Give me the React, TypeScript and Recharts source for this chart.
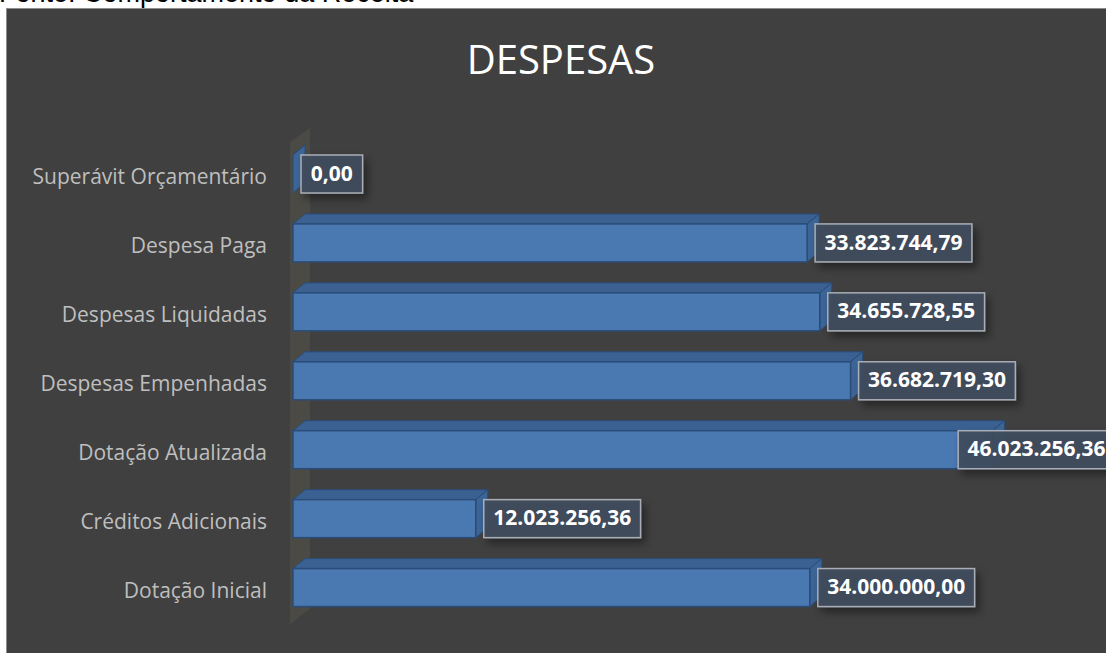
import { BarChart, Bar, XAxis, YAxis, LabelList, ReferenceArea } from 'recharts';

// categories top to bottom, as in the picture
const categories = [
  'Superávit Orçamentário',
  'Despesa Paga',
  'Despesas Liquidadas',
  'Despesas Empenhadas',
  'Dotação Atualizada',
  'Créditos Adicionais',
  'Dotação Inicial',
];
const values = [0, 33823744.79, 34655728.55, 36682719.3, 46023256.36, 12023256.36, 34000000.0];
const valueLabels = [
  '0,00',
  '33.823.744,79',
  '34.655.728,55',
  '36.682.719,30',
  '46.023.256,36',
  '12.023.256,36',
  '34.000.000,00',
];
const xDomain = [0, 50000000];

const data = categories.map((name, i) => ({ name, value: values[i], label: valueLabels[i] }));

const W = 1106;
const H = 653;
const DX = 12;
const DY = 10;
const LABEL_MAX_RIGHT = 1115;

function Bar3D(props: any) {
  const { x, y, width, height } = props;
  const w = Math.max(width || 0, 0);
  const h = height;
  const top = `${x},${y} ${x + DX},${y - DY} ${x + w + DX},${y - DY} ${x + w},${y}`;
  const side = `${x + w},${y} ${x + w + DX},${y - DY} ${x + w + DX},${y + h - DY} ${x + w},${y + h}`;
  return (
    <g>
      <polygon points={top} fill="#3a6192" stroke="#2b4c78" strokeWidth={1} />
      <polygon points={side} fill="#3c6597" stroke="#2b4c78" strokeWidth={1} />
      {w > 0 && <rect x={x} y={y} width={w} height={h} fill="#4a78b1" stroke="#2b4c78" strokeWidth={1.5} />}
    </g>
  );
}

function textWidth(s: string) {
  let t = 0;
  for (const c of s) t += c === '.' || c === ',' ? 5.6 : 12;
  return t;
}

function ValueLabel(props: any) {
  const vb = props.viewBox || props;
  const x = vb.x;
  const y = vb.y;
  const width = Math.max(vb.width || 0, 0);
  const height = vb.height;
  const text = String(props.value);
  const boxW = textWidth(text) + 20;
  let bx = x + width + 8;
  if (bx + boxW > LABEL_MAX_RIGHT) bx = LABEL_MAX_RIGHT - boxW;
  return (
    <g>
      <rect x={bx} y={y} width={boxW} height={height} fill="#3f4c5d" fillOpacity={0.92} stroke="#a9aeb6" strokeWidth={1.5} filter="url(#lblShadow)" />
      <text x={bx + boxW / 2} y={y + height / 2 + 1} textAnchor="middle" dominantBaseline="middle" fill="#ffffff" fontFamily="'Open Sans', sans-serif" fontWeight={700} fontSize={21}>
        {text}
      </text>
    </g>
  );
}

function Wall(props: any) {
  const { y, height } = props;
  const x0 = 293;
  const bottom = y + height;
  const pts = `${x0 - 3},${y + 2} ${x0 + 17},${y - 12} ${x0 + 17},${bottom - 14} ${x0 - 3},${bottom + 2}`;
  return <polygon points={pts} fill="#4b4a45" />;
}

function CategoryTick(props: any) {
  const { x, y, payload } = props;
  return (
    <text x={x} y={y + 4} textAnchor="end" dominantBaseline="middle" fill="#bfbfbf" fontFamily="'Open Sans', sans-serif" fontSize={21}>
      {payload.value}
    </text>
  );
}

export default function App() {
  return (
    <div style={{ position: 'absolute', left: 0, top: 0, width: W, height: H, background: '#ffffff', overflow: 'hidden' }}>
      <div style={{ position: 'absolute', left: -1, top: -22, fontFamily: "'Liberation Sans', Arial, sans-serif", fontSize: 27, color: '#000', whiteSpace: 'nowrap', lineHeight: '30px' }}>
        Fonte: Comportamento da Receita
      </div>
      <div style={{ position: 'absolute', left: 6, top: 8, width: W - 6, height: H - 8, background: '#404040', borderLeft: '1px solid #8c8c8c', borderTop: '1px solid #8c8c8c', boxSizing: 'border-box' }} />
      <div style={{ position: 'absolute', left: 0, top: 0 }}>
        <BarChart width={W} height={H} data={data} layout="vertical" margin={{ top: 140, right: 53, bottom: 30.5, left: 0 }} barSize={38}>
          <defs>
            <filter id="lblShadow" x="-20%" y="-30%" width="150%" height="180%">
              <feDropShadow dx={4} dy={5} stdDeviation={4} floodColor="#000" floodOpacity={0.45} />
            </filter>
          </defs>
          <text x={561} y={74} textAnchor="middle" fill="#ffffff" fontFamily="'Open Sans', sans-serif" fontSize={40}>
            DESPESAS
          </text>
          <XAxis type="number" domain={xDomain} hide />
          <YAxis type="category" dataKey="name" width={293} axisLine={false} tickLine={false} tickSize={0} tickMargin={26} tick={<CategoryTick />} interval={0} />
          <ReferenceArea x1={0} x2={xDomain[1]} y1={categories[0]} y2={categories[categories.length - 1]} ifOverflow="visible" shape={<Wall />} />
          <Bar dataKey="value" shape={<Bar3D />} isAnimationActive={false}>
            <LabelList dataKey="label" content={<ValueLabel />} />
          </Bar>
        </BarChart>
      </div>
    </div>
  );
}
